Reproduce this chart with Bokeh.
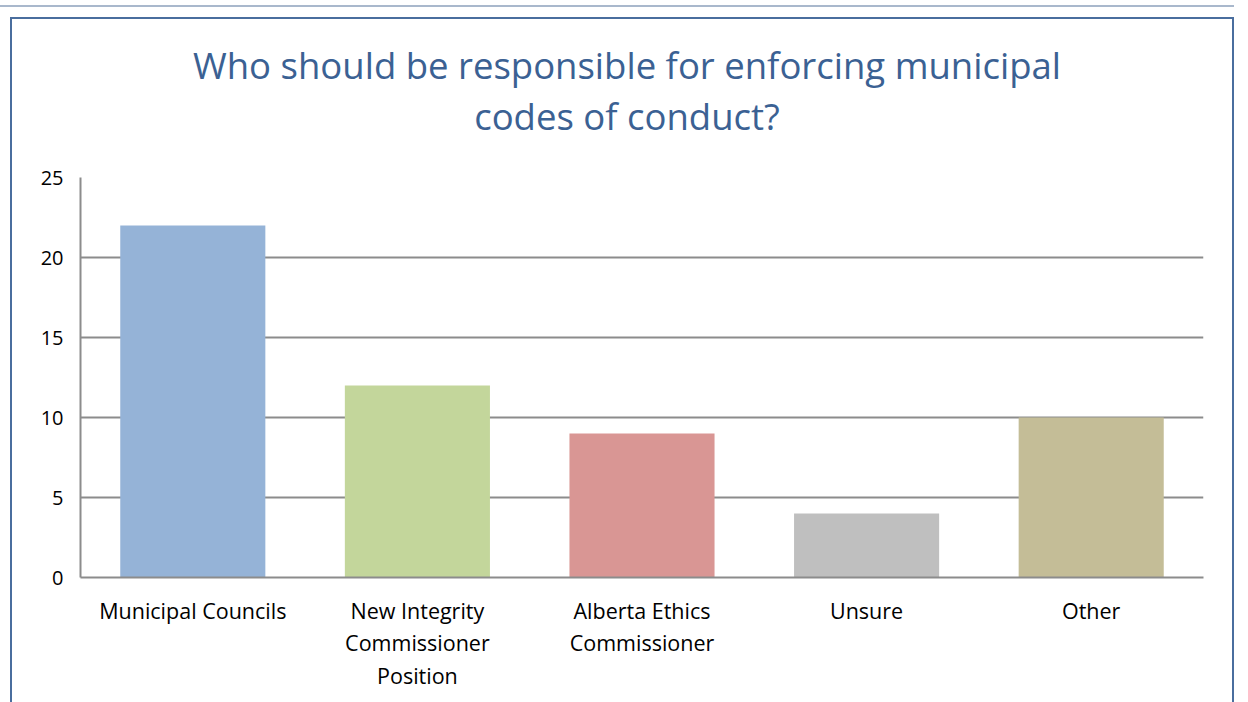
from bokeh.plotting import figure
from bokeh.models import Range1d, FactorRange, FixedTicker, ColumnDataSource, Div
from bokeh.layouts import column
from bokeh.embed import file_html
from bokeh.resources import INLINE

categories = ["Municipal Councils", "New Integrity\nCommissioner\nPosition",
              "Alberta Ethics\nCommissioner", "Unsure", "Other"]
values = [22, 12, 9, 4, 10]
colors = ["#95B3D7", "#C3D69B", "#D99694", "#BFBFBF", "#C4BD97"]
y_ticks = [0, 5, 10, 15, 20, 25]
title_lines = ["Who should be responsible for enforcing municipal", "codes of conduct?"]

FONT = "Open Sans"
W = 1220
TITLE_H = 130
H = 673 - TITLE_H

title = Div(text="<br>".join(title_lines), width=W, height=TITLE_H,
            styles={"padding-top": "16px", "text-align": "center",
                    "font-family": "'Open Sans'", "font-size": "36.5px",
                    "line-height": "51px", "color": "#3B6193",
                    "box-sizing": "border-box"})

p = figure(width=W, height=H, output_backend="svg", toolbar_location=None,
           x_range=FactorRange(factors=categories, range_padding=0),
           y_range=Range1d(0, 25),
           min_border_left=68, min_border_right=29, min_border_top=18, min_border_bottom=125)
p.outline_line_color = None
p.background_fill_color = "white"
p.border_fill_color = "white"

src = ColumnDataSource(dict(cat=categories, val=values, color=colors))
p.vbar(x="cat", top="val", width=0.646, color="color", source=src, line_color=None)

p.xgrid.grid_line_color = None
p.ygrid.grid_line_color = "#8C8C8C"
p.ygrid.grid_line_width = 2
p.yaxis.ticker = FixedTicker(ticks=y_ticks)
p.yaxis.axis_line_color = "#8C8C8C"
p.yaxis.axis_line_width = 2
p.yaxis.major_tick_line_color = None
p.yaxis.minor_tick_line_color = None
p.yaxis.major_tick_out = 0
p.yaxis.major_tick_in = 0
p.yaxis.major_label_standoff = 17
p.yaxis.major_label_text_font = FONT
p.yaxis.major_label_text_font_size = "20px"
p.yaxis.major_label_text_color = "black"

p.xaxis.axis_line_color = "#8C8C8C"
p.xaxis.axis_line_width = 2
p.xaxis.major_tick_line_color = None
p.xaxis.major_tick_out = 0
p.xaxis.major_tick_in = 0
p.xaxis.major_label_standoff = 18
p.xaxis.major_label_text_font = FONT
p.xaxis.major_label_text_font_size = "21.5px"
p.xaxis.major_label_text_color = "black"
p.xaxis.major_label_text_line_height = 1.13

chart = column(title, p, width=W + 4, sizing_mode="fixed",
               styles={"margin-left": "10px", "margin-top": "10px",
                       "border-left": "2px solid #4A6E9E",
                       "border-right": "2px solid #4A6E9E",
                       "border-top": "2px solid #4A6E9E",
                       "background-color": "white"})

page = column(chart, styles={"border-top": "2px solid #A9B8CC", "margin-top": "5px"})

open("out.html", "w").write(file_html(page, INLINE))
